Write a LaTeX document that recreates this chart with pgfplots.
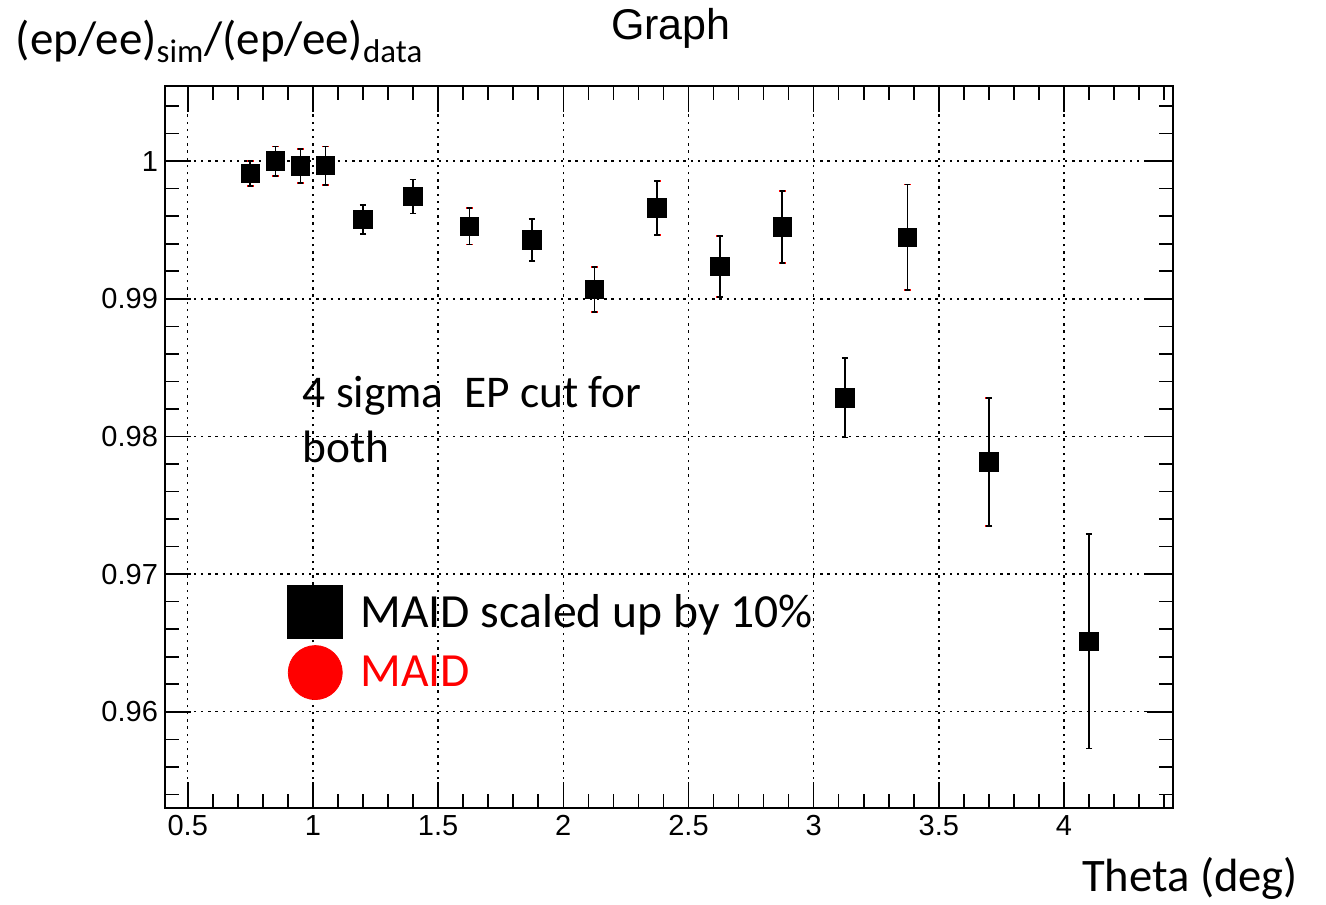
\documentclass[border=0pt]{standalone}
\usepackage{fontspec}
\usepackage{pgfplots}
\pgfplotsset{compat=1.18}
\usepackage{pgfplotstable}
\setmainfont{Liberation Sans}
\newfontfamily\carlito{Carlito}
\newfontfamily\helv{Liberation Sans}

\pgfplotstableread{
x y e
0.75 0.99911 0.00090
0.85 1.00000 0.00106
0.95 0.99964 0.00124
1.05 0.99968 0.00139
1.2 0.99576 0.00108
1.4 0.99743 0.00124
1.625 0.99526 0.00131
1.875 0.99429 0.00152
2.125 0.99069 0.00164
2.375 0.99661 0.00195
2.625 0.99235 0.00224
2.875 0.99521 0.00260
3.125 0.98281 0.00288
3.375 0.99446 0.00384
3.7 0.97814 0.00466
4.1 0.96511 0.00778
}\data

\begin{document}
\begin{tikzpicture}
\useasboundingbox (-82.5pt,-48pt) rectangle (580.5pt,404pt);
\begin{axis}[
  at={(0,0)}, anchor=south west,
  scale only axis, width=504pt, height=361pt,
  xmin=0.409, xmax=4.4355, ymin=0.95301, ymax=1.00546,
  xtick={0.5,1,...,4}, ytick={0.96,0.97,0.98,0.99,1},
  minor xtick={0.5,0.6,...,4.45},
  minor ytick={0.954,0.956,...,1.0055},
  grid=major,
  major grid style={black, line width=0.7pt, dash pattern=on 1.2pt off 2.4pt},
  axis line style={line width=1pt},
  tick style={black, line width=0.8pt},
  major tick length=13pt, minor tick length=7pt,
  tick align=inside, tick pos=both, xticklabel pos=lower, yticklabel pos=left,
  /pgf/number format/assume math mode=true,
  ticklabel style={font=\helv\fontsize{14.5}{17}\selectfont},
  legend style={at={(0.121,0.3089)}, anchor=north west, draw=none, fill=none,
    font=\carlito\fontsize{23.8}{28}\selectfont, inner sep=0pt,
    row sep=3pt, column sep=8.75pt,
    nodes={inner sep=0pt, text depth=0.15em}},
  legend cell align=left,
  reverse legend,
]
\addplot[red, only marks, mark=*, mark size=3pt,
  legend image code/.code={\fill[red] (13.75pt,0pt) circle (13.5pt);},
  error bars/.cd, y dir=both, y explicit,
  error bar style={red!80!black, line width=0.9pt},
  error mark options={rotate=90, red, mark size=1.7pt, line width=0.9pt}]
  table[x=x, y=y, y error=e] {\data};
\addlegendentry{{\color{red}MAID}}
\addplot[black, only marks, mark=square*, mark size=4.65pt,
  legend image code/.code={\fill[black] (0pt,-13.25pt) rectangle (27.5pt,13.25pt);},
  error bars/.cd, y dir=both, y explicit,
  error bar style={black, line width=0.9pt},
  error mark options={rotate=90, black, mark size=1.4pt, line width=0.9pt}]
  table[x=x, y=y, y error=e] {\data};
\addlegendentry{MAID scaled up by 10\%}
\end{axis}
\node[anchor=base, inner sep=0, font=\helv\fontsize{21.5}{25}\selectfont] at (252.9pt,384pt) {Graph};
\node[anchor=base west, inner sep=0, font=\carlito\fontsize{23.5}{28}\selectfont] at (-74.7pt,376.5pt) {(ep/ee)\textsubscript{sim}/(ep/ee)\textsubscript{data}};
\node[anchor=base east, inner sep=0, font=\carlito\fontsize{23.3}{26}\selectfont] at (566.7pt,-41.9pt) {Theta (deg)};
\node[anchor=base west, inner sep=0, font=\carlito\fontsize{22.7}{26}\selectfont] at (68.75pt,200pt) {4 sigma\ \ EP cut for};
\node[anchor=base west, inner sep=0, font=\carlito\fontsize{22.7}{26}\selectfont] at (68.75pt,172.5pt) {both};
\end{tikzpicture}
\end{document}
